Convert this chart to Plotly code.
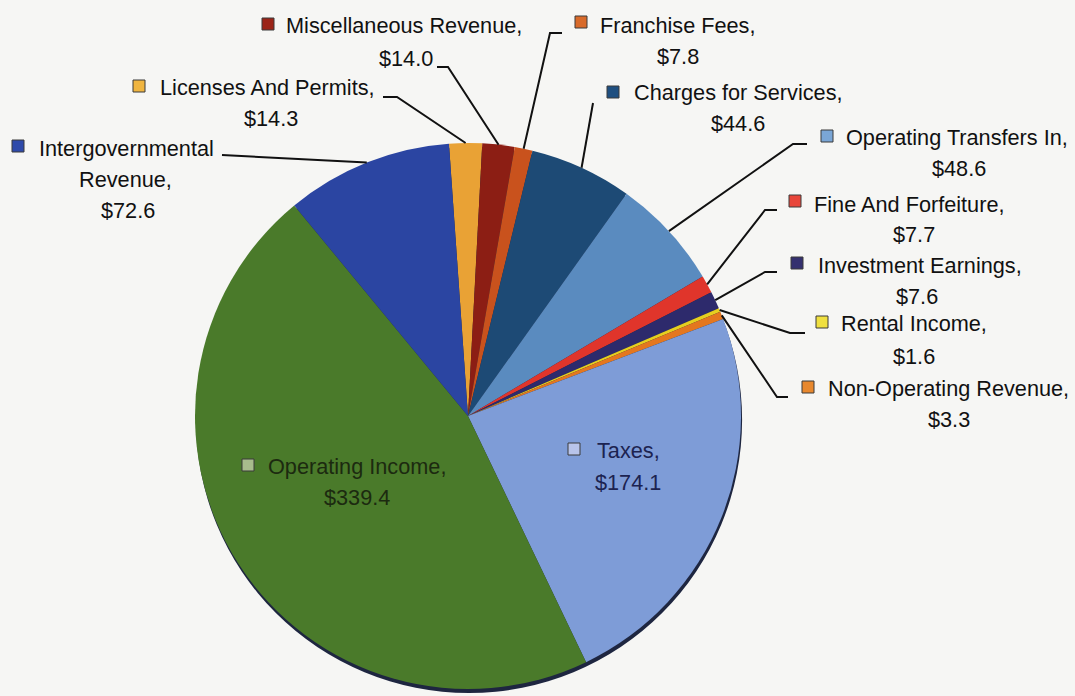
import math
import plotly.graph_objects as go

# revenue by source, $ millions, clockwise from 12 o'clock
categories = [
    "Licenses And Permits", "Miscellaneous Revenue", "Franchise Fees",
    "Charges for Services", "Operating Transfers In", "Fine And Forfeiture",
    "Investment Earnings", "Rental Income", "Non-Operating Revenue",
    "Taxes", "Operating Income", "Intergovernmental Revenue",
]
values = [14.3, 14.0, 7.8, 44.6, 48.6, 7.7, 7.6, 1.6, 3.3, 174.1, 339.4, 72.6]
slice_colors = [
    "#e9a235", "#8c1e14", "#c9521d", "#1d4a75", "#5a8bbf", "#e0352b",
    "#2d2a6c", "#e6cf1f", "#e4771f", "#7e9cd7", "#4a7a2a", "#2b45a2",
]
key_colors = [
    "#f0b540", "#9b2418", "#d86a2a", "#1f4f80", "#7aa6d6", "#e8463a",
    "#34306f", "#f0e040", "#e8882e", "#b8c4ea", "#a8bc8c", "#2e4aaa",
]
text_colors = ["#111111"] * 9 + ["#1c2350", "#1c2a10", "#111111"]

W, H = 1075, 696
CX, CY, R = 468, 416, 273
ROTATION = -4
FONT = "Liberation Sans, Arial, sans-serif"

# label placement in pixels: key square, centre of each text line, leader start
label_layout = {
    "Licenses And Permits": dict(key=(139, 86), lines=[(267, 88), (271, 119)],
                                 leader=[(383, 97), (397, 97)]),
    "Miscellaneous Revenue": dict(key=(268, 24), lines=[(404, 26), (406, 58)],
                                  leader=[(437, 67), (448, 67)]),
    "Franchise Fees": dict(key=(581, 22), lines=[(678, 25), (678, 56)],
                           leader=[(562, 33), (550, 33)]),
    "Charges for Services": dict(key=(613, 92), lines=[(738, 92), (738, 123)],
                                 leader=[(593, 103)]),
    "Operating Transfers In": dict(key=(827, 136), lines=[(957, 137), (959, 168)],
                                   leader=[(807, 144), (793, 144)]),
    "Fine And Forfeiture": dict(key=(795, 201), lines=[(909, 204), (914, 234)],
                                leader=[(777, 210), (765, 210)]),
    "Investment Earnings": dict(key=(797, 263), lines=[(920, 265), (917, 296)],
                                leader=[(777, 272), (765, 272)]),
    "Rental Income": dict(key=(822, 322), lines=[(914, 324), (914, 356)],
                          leader=[(805, 333), (790, 333)]),
    "Non-Operating Revenue": dict(key=(808, 387), lines=[(948, 388), (949, 419)],
                                  leader=[(788, 397), (777, 397)]),
    "Taxes": dict(key=(574, 449), lines=[(628, 450), (628, 482)], leader=None),
    "Operating Income": dict(key=(248, 465), lines=[(357, 466), (357, 497)], leader=None),
    "Intergovernmental Revenue": dict(key=(18, 146), lines=[(126, 148), (125, 180), (128, 210)],
                                      leader=[(222, 155)], split=["Intergovernmental", "Revenue,"]),
}


def px(x):
    return x / W


def py(y):
    return 1 - y / H


fig = go.Figure()

# soft shadow under the pie
fig.add_trace(go.Pie(
    values=[sum(values)], marker=dict(colors=["#1e2640"], line=dict(width=0)),
    textinfo="none", hoverinfo="skip", showlegend=False, sort=False,
    domain=dict(x=[px(CX - R + 1), px(CX + R + 1)], y=[py(CY + R + 4), py(CY - R + 4)]),
))

fig.add_trace(go.Pie(
    labels=categories, values=values, sort=False, direction="clockwise",
    rotation=ROTATION, textinfo="none", showlegend=False,
    marker=dict(colors=slice_colors, line=dict(width=0)),
    domain=dict(x=[px(CX - R), px(CX + R)], y=[py(CY + R), py(CY - R)]),
))

total = sum(values)
cum = 0
shapes, annotations = [], []
for cat, val, kc, tc in zip(categories, values, key_colors, text_colors):
    lay = label_layout[cat]
    ang = math.radians(ROTATION + 360 * (cum + val / 2) / total)
    cum += val
    edge = (CX + R * math.sin(ang), CY - R * math.cos(ang))

    texts = lay.get("split", [cat + ","]) + [f"${val:.1f}"]
    for t, (x, y) in zip(texts, lay["lines"]):
        annotations.append(dict(
            x=px(x), y=py(y), xref="paper", yref="paper", text=t, showarrow=False,
            xanchor="center", yanchor="middle", font=dict(family=FONT, size=21.7, color=tc),
        ))

    kx, ky = lay["key"]
    shapes.append(dict(
        type="rect", xref="paper", yref="paper",
        x0=px(kx - 6), x1=px(kx + 6), y0=py(ky + 6), y1=py(ky - 6),
        fillcolor=kc, line=dict(color="#3a3a3a", width=1),
    ))

    if lay["leader"]:
        pts = lay["leader"] + [edge]
        path = "M " + " L ".join(f"{px(x):.5f},{py(y):.5f}" for x, y in pts)
        shapes.append(dict(type="path", xref="paper", yref="paper", path=path,
                           line=dict(color="#111111", width=2)))

fig.update_layout(
    width=W, height=H, margin=dict(l=0, r=0, t=0, b=0),
    paper_bgcolor="#f6f6f4", plot_bgcolor="#f6f6f4",
    shapes=shapes, annotations=annotations,
)

fig.write_html("out.html", config={"displayModeBar": False},
               post_script="document.body.style.margin='0';")
